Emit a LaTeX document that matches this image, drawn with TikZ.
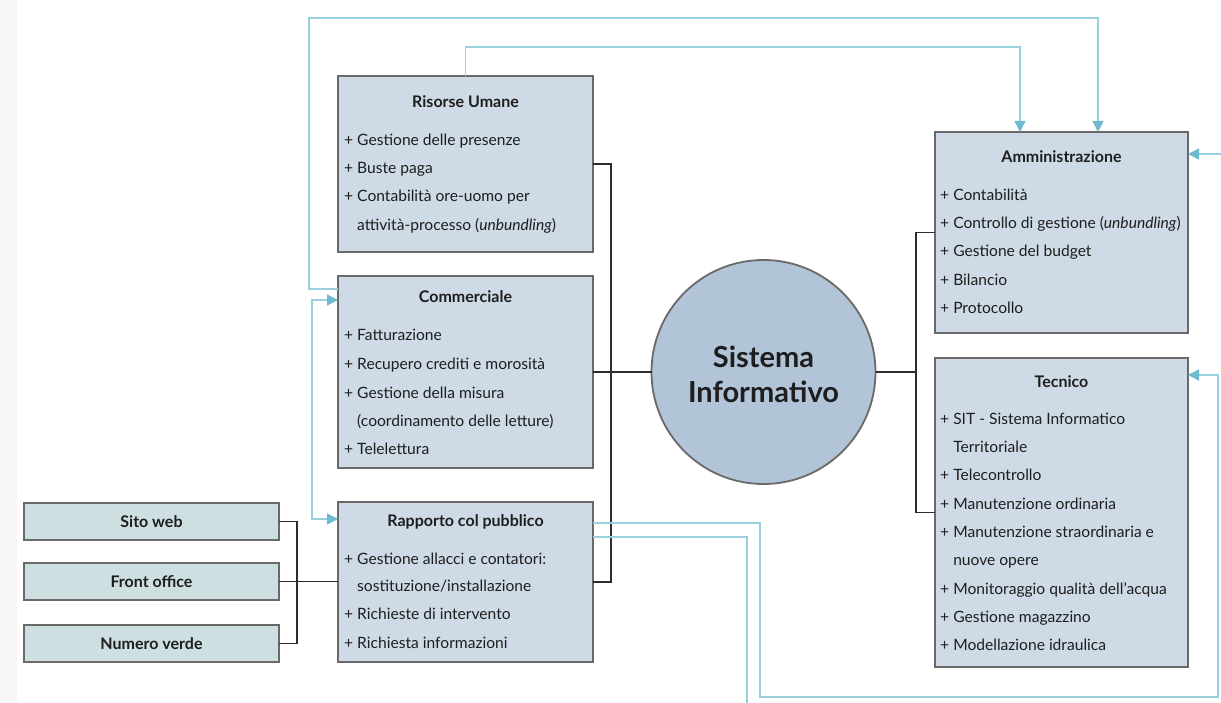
\documentclass[tikz,border=0pt]{standalone}
\usepackage{fontspec}
\setmainfont{Lato}
\usetikzlibrary{arrows.meta,calc}
\definecolor{boxfill}{RGB}{206,218,230}
\definecolor{chanfill}{RGB}{205,223,224}
\definecolor{circfill}{RGB}{178,196,216}
\definecolor{boxline}{RGB}{105,105,105}
\definecolor{conn}{RGB}{45,45,45}
\definecolor{flowc}{RGB}{152,208,222}
\definecolor{flowtip}{RGB}{112,186,208}
\definecolor{txt}{RGB}{30,30,30}
\definecolor{edgestrip}{RGB}{247,247,247}
\begin{document}
\begin{tikzpicture}[x=1pt,y=-1pt,
  panel/.style={draw=boxline,line width=1.8pt,fill=boxfill,inner sep=0pt,outer sep=0pt,anchor=north west},
  chan/.style={draw=boxline,line width=1.6pt,fill=chanfill,inner sep=0pt,outer sep=0pt,anchor=north west,
     text=txt,font=\bfseries\fontsize{16}{19}\selectfont},
  hub/.style={circle,draw=boxline,line width=1.8pt,fill=circfill,inner sep=0pt,outer sep=0pt},
  ttl/.style={anchor=base,inner sep=0pt,text=txt,font=\bfseries\fontsize{16}{19}\selectfont},
  item/.style={anchor=base west,inner sep=0pt,text=txt,font=\fontsize{15.6}{18}\selectfont},
  big/.style={anchor=base,inner sep=0pt,text=txt,font=\bfseries\fontsize{29}{34}\selectfont},
  link/.style={draw=conn,line width=1.4pt},
  flow/.style={draw=flowc,line width=1.5pt},
  tip/.style={-{Triangle[length=11pt,width=11pt,color=flowtip]}},
  bitip/.style={{Triangle[length=11pt,width=11pt,color=flowtip]}-{Triangle[length=11pt,width=11pt,color=flowtip]}}]
\useasboundingbox (0,0) rectangle (1221,703);
\fill[edgestrip] (0,0) rectangle (17,703);

% ---- boxes
\node[panel,minimum width=255pt,minimum height=176pt] (ru) at (338,76) {};
\node[panel,minimum width=255pt,minimum height=192pt] (comm) at (338,276) {};
\node[panel,minimum width=255pt,minimum height=160pt] (rp) at (338,502) {};
\node[panel,minimum width=253pt,minimum height=201pt] (amm) at (935,132) {};
\node[panel,minimum width=253pt,minimum height=309pt] (tec) at (935,358) {};
\node[hub,minimum size=224pt] (sys) at (763.5,372) {};
\node[chan,minimum width=255pt,minimum height=37pt] (web) at (24,503) {Sito web};
\node[chan,minimum width=255pt,minimum height=37pt] (front) at (24,563) {Front office};
\node[chan,minimum width=255pt,minimum height=37pt] (num) at (24,625) {Numero verde};

% ---- hub text
\node[big] (sys1) at (763.5,367) {Sistema};
\node[big] (sys2) at (763.5,402) {Informativo};

% ---- Risorse Umane
\node[ttl] (rut) at (465.5,108) {Risorse Umane};
\node[item] (ru1) at (344,146) {+ Gestione delle presenze};
\node[item] (ru2) at (344,174) {+ Buste paga};
\node[item] (ru3) at (344,202) {+ Contabilità ore-uomo per};
\node[item] (ru4) at (344,231) {\phantom{+ }attività-processo (\textit{unbundling})};

% ---- Commerciale
\node[ttl] (cot) at (465.5,303) {Commerciale};
\node[item] (co1) at (344,341) {+ Fatturazione};
\node[item] (co2) at (344,369) {+ Recupero crediti e morosità};
\node[item] (co3) at (344,398) {+ Gestione della misura};
\node[item] (co4) at (344,426) {\phantom{+ }(coordinamento delle letture)};
\node[item] (co5) at (344,454) {+ Telelettura};

% ---- Rapporto col pubblico
\node[ttl] (rpt) at (465.5,526) {Rapporto col pubblico};
\node[item] (rp1) at (344,564) {+ Gestione allacci e contatori:};
\node[item] (rp2) at (344,591) {\phantom{+ }sostituzione/installazione};
\node[item] (rp3) at (344,619) {+ Richieste di intervento};
\node[item] (rp4) at (344,648) {+ Richiesta informazioni};

% ---- Amministrazione
\node[ttl] (amt) at (1061.5,163) {Amministrazione};
\node[item] (am1) at (940,201) {+ Contabilità};
\node[item] (am2) at (940,229) {+ Controllo di gestione (\textit{unbundling})};
\node[item] (am3) at (940,257) {+ Gestione del budget};
\node[item] (am4) at (940,286) {+ Bilancio};
\node[item] (am5) at (940,314) {+ Protocollo};

% ---- Tecnico
\node[ttl] (tet) at (1061.5,387) {Tecnico};
\node[item] (te1) at (940,424) {+ SIT - Sistema Informatico};
\node[item] (te2) at (940,452) {\phantom{+ }Territoriale};
\node[item] (te3) at (940,480) {+ Telecontrollo};
\node[item] (te4) at (940,509) {+ Manutenzione ordinaria};
\node[item] (te5) at (940,537) {+ Manutenzione straordinaria e};
\node[item] (te6) at (940,565) {\phantom{+ }nuove opere};
\node[item] (te7) at (940,594) {+ Monitoraggio qualità dell'acqua};
\node[item] (te8) at (940,622) {+ Gestione magazzino};
\node[item] (te9) at (940,650) {+ Modellazione idraulica};

% ---- black connectors
\coordinate (lbus) at (611,0);
\coordinate (rbus) at (916,0);
\coordinate (cbus) at (297,0);
\draw[link] (ru.east) -- (ru.east -| lbus) -- (rp.east -| lbus) -- (rp.east);
\draw[link] (comm.east) -- (comm.east -| sys.west);
\draw[link] (sys.east) -- (sys.east -| rbus);
\draw[link] (amm.west) -- (amm.west -| rbus) -- (tec.west -| rbus) -- (tec.west);
\draw[link] (web.east) -- (web.east -| cbus) -- (num.east -| cbus) -- (num.east);
\draw[link] (front.east) -- (front.east -| rp.west);

% ---- ports and bends for the blue flows
\coordinate (pa) at ($(comm.north west)+(0,13)$);
\coordinate (pc1) at ($(comm.north west)+(0,24)$);
\coordinate (pc2) at ($(rp.north west)+(0,17)$);
\coordinate (pe) at ($(rp.north east)+(0,21)$);
\coordinate (pf) at ($(rp.north east)+(0,35)$);
\coordinate (pt) at ($(tec.north east)+(0,17)$);
\coordinate (xa) at (309,18);
\coordinate (xa2) at (1098,18);
\coordinate (xb) at (465.5,47);
\coordinate (xb2) at (1020,47);
\coordinate (xc) at (312,0);
\coordinate (dsrc) at (1221,154);
\coordinate (xe) at (760,697);
\coordinate (xe2) at (1218,697);
\coordinate (xf) at (747,703);

\draw[flow,tip] (pa) -- (pa -| xa) -- (xa) -- (xa2) -- (xa2 |- amm.north);
\draw[flow,tip] (ru.north) -- (xb) -- (xb2) -- (xb2 |- amm.north);
\draw[flow,bitip] (pc1) -- (pc1 -| xc) -- (pc2 -| xc) -- (pc2);
\draw[flow,tip] (dsrc) -- (dsrc -| amm.east);
\draw[flow,tip] (pe) -- (pe -| xe) -- (xe) -- (xe2) -- (pt -| xe2) -- (pt);
\draw[flow] (pf) -- (pf -| xf) -- (xf);
\end{tikzpicture}
\end{document}
